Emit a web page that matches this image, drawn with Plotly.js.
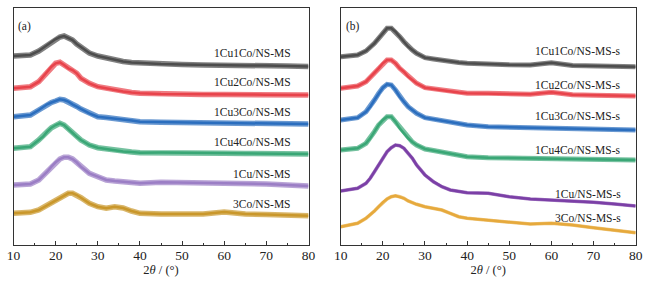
<!DOCTYPE html>
<html>
<head>
<meta charset="utf-8">
<script src="https://cdn.plot.ly/plotly-3.0.1.min.js"></script>
<style>html,body{margin:0;padding:0;background:#fff;}#chart{width:656px;height:281px;}</style>
</head>
<body>
<div id="chart"></div>
<script>
// 2theta grid (degrees)
const twoTheta = [10,12,14,16,17,18,19,20,21,22,23,24,25,26,27,28,30,32,34,36,38,40,45,50,55,60,65,70,75,80];

// Panel (a): offset intensities (a.u.)
const a_1Cu1Co = [189,189.5,190,194,197,200,203,206,208,209,207,205,201,198,195,192,189,187,185,183.5,182.5,182,181,180.5,180,180,179.5,179.5,179,178.5];
const a_1Cu2Co = [156.7,157.5,158.3,163.3,168,173.3,178.3,181.7,182.7,180,176.7,175,171.7,166.7,164,161.7,158.3,156.5,155,153.5,152.5,151.7,151,150.7,150.5,150.5,150.5,150.3,150,150];
const a_1Cu3Co = [128.3,129,130,135,138,140.7,142.5,144,145.7,145,143.3,140.7,138.5,136,134,131.7,128.3,127.5,126.5,125.5,124.5,123.3,122.7,122.5,122.2,122,121.8,121.5,121.2,121];
const a_1Cu4Co = [96.7,97.5,98.3,105,108.3,113.3,117.3,120,121.7,120,116,111.7,108.3,105,102.5,100,97.3,96,94.5,93.5,93,92.3,92.5,92.3,92,91.8,91.5,91.3,91,91];
const a_1Cu = [60,60.5,61,65,69,73.3,78.3,82.7,86,87.7,87.7,86,82.7,78.3,75,71.7,68.3,65,64,63,62.5,61.7,62.8,62.5,62.5,62.3,62,61,60,59];
const a_3Co = [31.7,32.2,32.7,35,37.5,40,42.5,45,47.5,50,51.7,51.7,50,47.3,44.5,41.7,38.3,36.7,38.3,37,34,31.7,31,31,31,33,31,30.5,30,29.3];

// Panel (b)
const b_1Cu1Co = [188.3,189,190,194,197.5,201.7,206.7,211.7,216.7,216.7,213.3,208.3,203.3,198.3,195,191.7,187.3,186,184.5,183.5,182.5,181.7,180.7,180.2,180,182.2,179.5,179,178.7,178.3];
const b_1Cu2Co = [156.7,157.5,159,163.3,167.5,171.7,176.7,181.7,185,185,181.7,176.7,173.3,168.3,165,161.7,157.3,156,154.5,153.5,152.5,151.7,151.7,151,150.7,152.7,150.2,149.8,149.4,149];
const b_1Cu3Co = [125,126,127.3,133.3,138.3,145,151.7,157.3,160.7,160,155,148.3,143.3,138.3,135,131.7,127.3,126,124.5,123,121.5,120,118.3,117.8,117.3,117,116.5,116,115.5,115];
const b_1Cu4Co = [95,95.8,96.7,101.7,106.7,113.3,120,125,128.3,128.3,123.3,116.7,111.7,106.7,103,100,96,94.5,93,91.5,90,88.3,87.3,87,86.7,86.5,86,85.7,85.3,85];
const b_1Cu = [54,55,56.7,61.7,66.7,73.3,80,86.7,93.3,97.3,100,99.3,96.7,91.7,86.7,80,70,63.3,58.3,55,53.3,52.3,51.7,48.3,46,45,44,42.7,41,39];
const b_3Co = [18.3,20,21.7,26.7,30,34,38.3,42.7,46,48.3,49.3,48.3,46.7,44,42.2,40.7,38.3,36.7,35,31.7,28.3,26.7,25,22.7,21,21.7,20,17.3,15,12.3];

const namesA = ['1Cu1Co/NS-MS','1Cu2Co/NS-MS','1Cu3Co/NS-MS','1Cu4Co/NS-MS','1Cu/NS-MS','3Co/NS-MS'];
const namesB = ['1Cu1Co/NS-MS-s','1Cu2Co/NS-MS-s','1Cu3Co/NS-MS-s','1Cu4Co/NS-MS-s','1Cu/NS-MS-s','3Co/NS-MS-s'];
const labelYA = [192,163,133,103,71,41];
const labelYB = [194,160,129.3,95.3,51,27];
const xTickVals = [10,20,30,40,50,60,70,80];

const seriesA = [a_1Cu1Co,a_1Cu2Co,a_1Cu3Co,a_1Cu4Co,a_1Cu,a_3Co];
const seriesB = [b_1Cu1Co,b_1Cu2Co,b_1Cu3Co,b_1Cu4Co,b_1Cu,b_3Co];
const colorsA = ['#4d4d4d','#e8434b','#2b6ebe','#3aa776','#9b7ec5','#c9972b'];
const colorsB = ['#4d4d4d','#e8434b','#2b6ebe','#3aa776','#7b3fa6','#e6a93c'];
const bandA = [5.5,5.5,5.5,5.5,5.5,5.5];
const bandB = [5,5,5,5,3.5,3.5];

const traces = [];
function addSeries(ys, color, xa, ya, band, name) {
  traces.push({x: twoTheta, y: ys, xaxis: xa, yaxis: ya, mode: 'lines', name: name,
    line: {color: color, width: band, shape: 'linear'}, opacity: 0.7, hoverinfo: 'skip', showlegend: false});
  traces.push({x: twoTheta, y: ys, xaxis: xa, yaxis: ya, mode: 'lines', name: name,
    line: {color: color, width: 2.5, shape: 'linear'}, showlegend: false});
}
seriesA.forEach((s, i) => addSeries(s, colorsA[i], 'x', 'y', bandA[i], namesA[i]));
seriesB.forEach((s, i) => addSeries(s, colorsB[i], 'x2', 'y2', bandB[i], namesB[i]));

const font = {family: 'Liberation Serif, Times New Roman, serif', color: '#222'};
const annotations = [];
namesA.forEach((n, i) => annotations.push({x: 76.3, y: labelYA[i], xref: 'x', yref: 'y', text: n, showarrow: false,
  xanchor: 'right', yanchor: 'middle', font: Object.assign({size: 11.5}, font)}));
namesB.forEach((n, i) => annotations.push({x: 77.1, y: labelYB[i], xref: 'x2', yref: 'y2', text: n, showarrow: false,
  xanchor: 'right', yanchor: 'middle', font: Object.assign({size: 11.5}, font)}));
annotations.push({x: 12.6, y: 219, xref: 'x', yref: 'y', text: '(a)', showarrow: false, xanchor: 'center', yanchor: 'middle', font: Object.assign({size: 11.5}, font)});
annotations.push({x: 12.8, y: 219, xref: 'x2', yref: 'y2', text: '(b)', showarrow: false, xanchor: 'center', yanchor: 'middle', font: Object.assign({size: 11.5}, font)});

function xAxis(domain, anchor) {
  return {domain: domain, anchor: anchor, range: [10, 80], showgrid: false, zeroline: false,
    showline: true, mirror: true, linecolor: '#333', linewidth: 1,
    ticks: 'inside', ticklen: 4, tickwidth: 1, tickcolor: '#333',
    tickvals: xTickVals, ticktext: xTickVals.map(String),
    minor: {dtick: 5, tick0: 5, ticks: 'inside', ticklen: 2.5, tickcolor: '#333', showgrid: false},
    tickfont: Object.assign({size: 13.5}, font),
    ticklabelstandoff: -2,
    title: {text: '2<i>θ</i> / (°)', font: Object.assign({size: 12.5}, font), standoff: 0}};
}
function yAxis(anchor) {
  return {domain: [0, 1], anchor: anchor, range: [0, 237], showgrid: false, zeroline: false,
    showline: true, mirror: true, linecolor: '#333', linewidth: 1, ticks: '', showticklabels: false, fixedrange: true};
}

const layout = {
  width: 656, height: 281,
  margin: {l: 0, r: 0, t: 8, b: 36},
  paper_bgcolor: '#fff', plot_bgcolor: '#fff',
  showlegend: false,
  xaxis: xAxis([0.0206, 0.4703], 'y'),
  yaxis: yAxis('x'),
  xaxis2: xAxis([0.5194, 0.969], 'y2'),
  yaxis2: yAxis('x2'),
  annotations: annotations
};
Plotly.newPlot('chart', traces, layout, {displayModeBar: false, staticPlot: true});
</script>
</body>
</html>
